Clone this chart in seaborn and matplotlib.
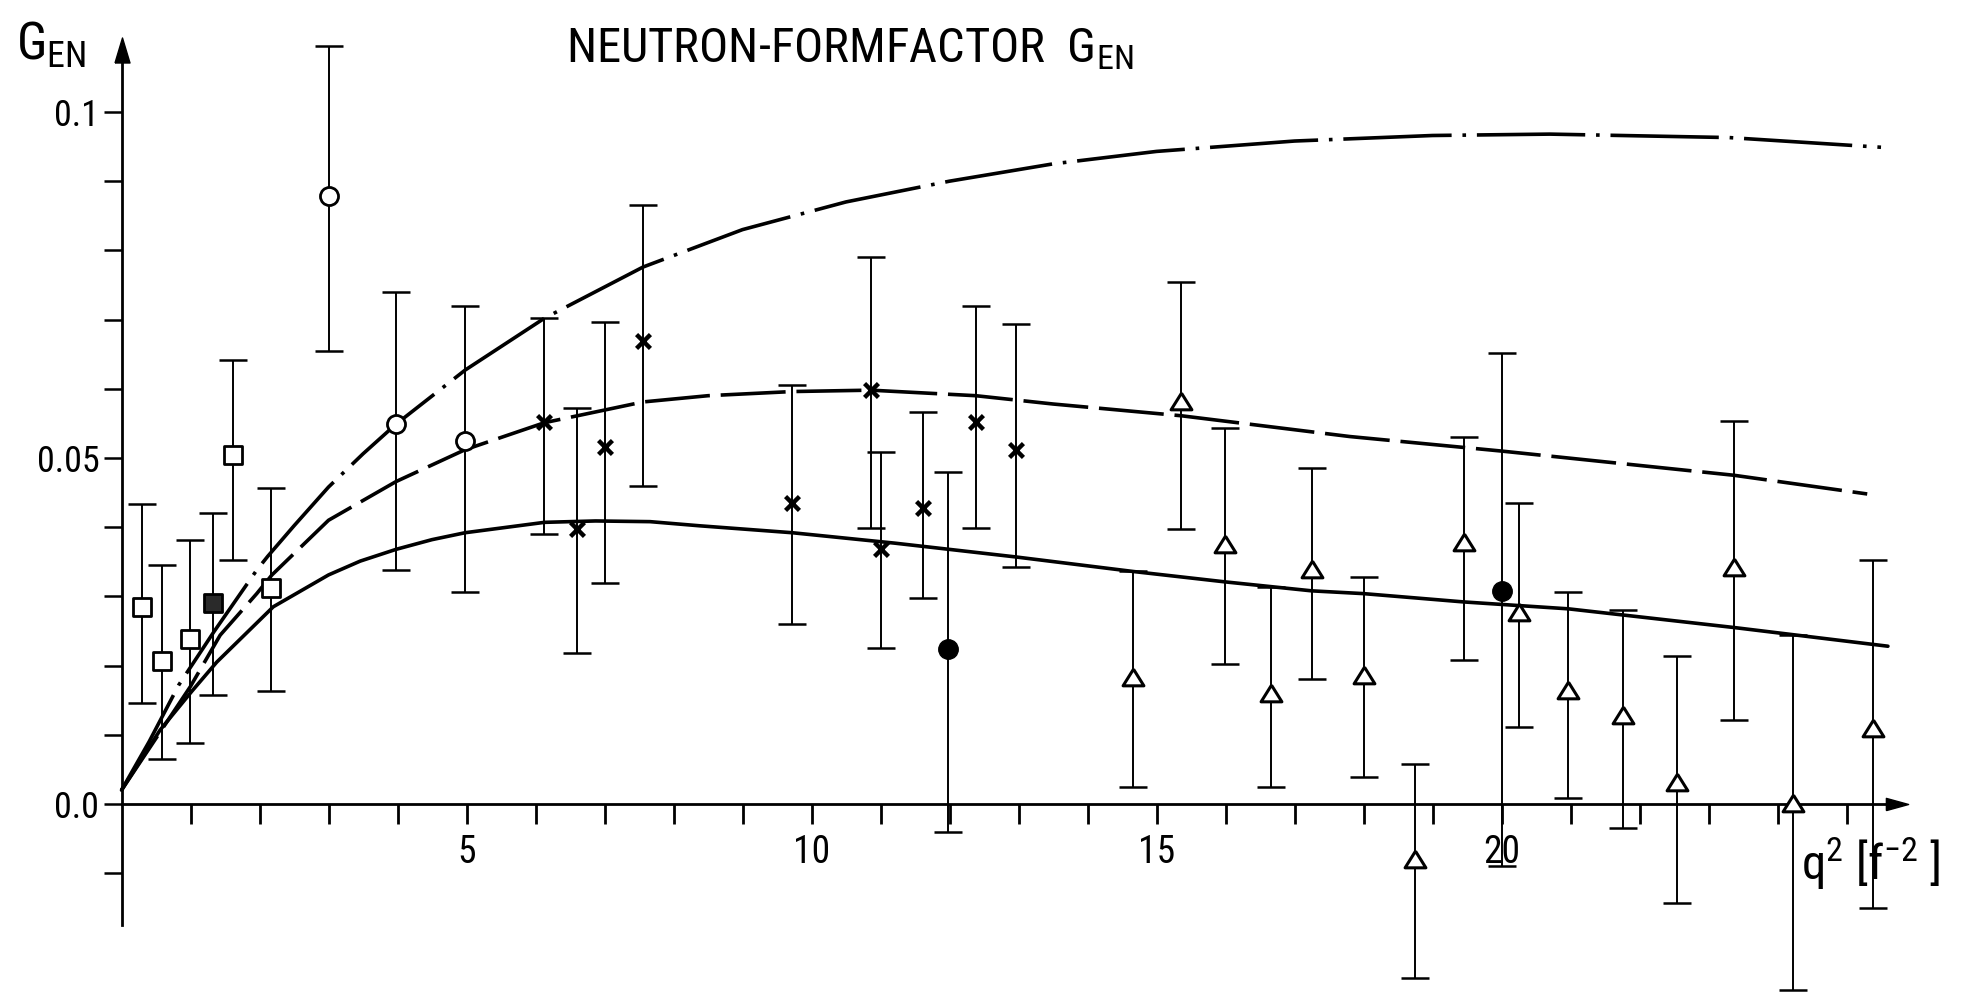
import numpy as np
import pandas as pd
import matplotlib
matplotlib.use('Agg')
import matplotlib.pyplot as plt
import seaborn as sns
from matplotlib import font_manager

# --- data -----------------------------------------------------------------
# theory curves
dashdot_x = [0, 0.4, 0.83, 1.34, 1.96, 2.12, 2.5, 3.0, 3.5, 3.98, 4.98, 6.13, 7.56,
             9.0, 10.5, 12.0, 13.5, 15.0, 17.0, 19.0, 20.7, 23.3, 25.5]
dashdot_y = [0.002, 0.009, 0.0172, 0.0249, 0.0338, 0.0358, 0.0402, 0.0458, 0.0506,
             0.0549, 0.0627, 0.0702, 0.0776, 0.0830, 0.0870, 0.0900, 0.0925, 0.0943,
             0.0958, 0.0966, 0.0968, 0.0963, 0.0949]

dashed_x = [0, 0.5, 1.0, 1.43, 1.96, 2.18, 3.0, 3.98, 4.98, 6.13, 7.56, 8.5, 9.72,
            10.86, 12.38, 13.5, 15.36, 17.8, 20.0, 23.37, 25.3]
dashed_y = [0.002, 0.0095, 0.017, 0.0244, 0.0304, 0.0331, 0.041, 0.0466, 0.0512,
            0.0551, 0.0581, 0.0590, 0.0596, 0.0598, 0.0590, 0.0578, 0.0561,
            0.0531, 0.0510, 0.0475, 0.0448]

solid_x = [0, 0.56, 1.02, 1.38, 2.2, 3.0, 3.46, 3.98, 4.5, 4.98, 6.13, 6.87, 7.66,
           8.38, 9.72, 11.2, 12.96, 14.66, 15.99, 17.25, 18.0, 19.45, 20.97, 23.37,
           25.6]
solid_y = [0.002, 0.0107, 0.0163, 0.0205, 0.0285, 0.0331, 0.0351, 0.0368, 0.0382,
           0.0392, 0.0407, 0.0409, 0.0408, 0.0402, 0.0392, 0.0377, 0.0357, 0.0336,
           0.0321, 0.0308, 0.0304, 0.0292, 0.0282, 0.0255, 0.0228]

# open squares
sq_x = [0.30, 0.59, 0.99, 1.62, 2.17]
sq_y = [0.0284, 0.0206, 0.0239, 0.0505, 0.0312]
sq_lo = [0.0146, 0.0065, 0.0088, 0.0353, 0.0163]
sq_hi = [0.0434, 0.0345, 0.0382, 0.0642, 0.0456]

# filled square
fsq_x = [1.33]
fsq_y = [0.029]
fsq_lo = [0.0158]
fsq_hi = [0.0421]

# open circles
oc_x = [3.01, 3.98, 4.98]
oc_y = [0.0879, 0.0549, 0.0524]
oc_lo = [0.0655, 0.0338, 0.0306]
oc_hi = [0.1096, 0.0740, 0.0720]

# crosses
cr_x = [6.13, 6.6, 7.0, 7.56, 9.72, 10.86, 11.0, 11.62, 12.38, 12.96]
cr_y = [0.0552, 0.0398, 0.0516, 0.0669, 0.0435, 0.0598, 0.0368, 0.0427, 0.0552, 0.0512]
cr_lo = [0.0390, 0.0218, 0.0319, 0.0459, 0.0260, 0.0399, 0.0225, 0.0298, 0.0399, 0.0343]
cr_hi = [0.0702, 0.0572, 0.0696, 0.0865, 0.0605, 0.0791, 0.0508, 0.0567, 0.0719, 0.0694]

# filled circles
fc_x = [11.98, 20.0]
fc_y = [0.0224, 0.0308]
fc_lo = [-0.0040, -0.0090]
fc_hi = [0.0480, 0.0652]

# open triangles
tr_x = [14.66, 15.36, 15.99, 16.66, 17.25, 18.0, 18.75, 19.45, 20.26, 20.97,
        21.76, 22.55, 23.37, 24.22, 25.38]
tr_y = [0.0183, 0.0583, 0.0376, 0.0161, 0.0340, 0.0187, -0.0080, 0.0378, 0.0277,
        0.0165, 0.0129, 0.0032, 0.0342, 0.0002, 0.0110]
tr_lo = [0.0024, 0.0398, 0.0202, 0.0025, 0.0180, 0.0039, -0.0252, 0.0208, 0.0111,
         0.0009, -0.0034, -0.0143, 0.0122, -0.0269, -0.0150]
tr_hi = [0.0336, 0.0754, 0.0543, 0.0314, 0.0485, 0.0328, 0.0058, 0.0531, 0.0435,
         0.0307, 0.0280, 0.0214, 0.0553, 0.0244, 0.0353]

# axis ticks / labels
x_ticks = list(range(1, 26))
x_tick_labels = ['5', '10', '15', '20']
y_ticks = [-0.01, 0.0, 0.01, 0.02, 0.03, 0.04, 0.05, 0.06, 0.07, 0.08, 0.09, 0.1]
y_tick_labels = {0.0: '0.0', 0.05: '0.05', 0.1: '0.1'}

# --- style ------------------------------------------------------------------
sns.set_theme(style='white')
names = {f.name for f in font_manager.fontManager.ttflist}
font = next((n for n in ['Liberation Sans Narrow', 'Roboto Condensed',
                         'Open Sans Condensed'] if n in names), 'DejaVu Sans')
plt.rcParams['font.family'] = [font, 'DejaVu Sans']
if font == 'DejaVu Sans':
    plt.rcParams['font.stretch'] = 'condensed'
plt.rcParams['mathtext.fontset'] = 'custom'
plt.rcParams['mathtext.rm'] = font
plt.rcParams['mathtext.it'] = font
plt.rcParams['mathtext.default'] = 'regular'
plt.rcParams['text.color'] = 'black'

W, H = 1975, 997
fig = plt.figure(figsize=(W / 100, H / 100), dpi=100)
fig.patch.set_facecolor('white')
ax = fig.add_axes([0, 0, 1, 1])
ax.set_xlim(-1.761, 26.862)
ax.set_ylim(-0.02789, 0.11618)

# curves
sns.lineplot(x=dashdot_x, y=dashdot_y, ax=ax, color='black', linewidth=2.6,
             linestyle=(0, (30, 3, 1, 3)), estimator=None, zorder=2)
sns.lineplot(x=dashed_x, y=dashed_y, ax=ax, color='black', linewidth=2.6,
             linestyle=(0, (18, 3)), estimator=None, zorder=2)
sns.lineplot(x=solid_x, y=solid_y, ax=ax, color='black', linewidth=2.6,
             estimator=None, zorder=2)


def bars(xs, ys, lo, hi):
    ys = np.array(ys)
    ax.errorbar(xs, ys, yerr=[ys - np.array(lo), np.array(hi) - ys], fmt='none',
                ecolor='black', elinewidth=1.4, capsize=10, capthick=1.8, zorder=3)


for xs, ys, lo, hi in [(sq_x, sq_y, sq_lo, sq_hi), (fsq_x, fsq_y, fsq_lo, fsq_hi),
                       (oc_x, oc_y, oc_lo, oc_hi), (cr_x, cr_y, cr_lo, cr_hi),
                       (fc_x, fc_y, fc_lo, fc_hi), (tr_x, tr_y, tr_lo, tr_hi)]:
    bars(xs, ys, lo, hi)

tri = [(0, 0.8), (-1, -0.8), (1, -0.8), (0, 0.8)]
sns.scatterplot(x=sq_x, y=sq_y, ax=ax, marker='s', s=13.5 ** 2, color='white',
                edgecolor='black', linewidth=2, zorder=4)
sns.scatterplot(x=fsq_x, y=fsq_y, ax=ax, marker='s', s=13.5 ** 2, color='#2a2a2a',
                edgecolor='black', linewidth=2, zorder=4)
sns.scatterplot(x=oc_x, y=oc_y, ax=ax, marker='o', s=13 ** 2, color='white',
                edgecolor='black', linewidth=2, zorder=4)
sns.scatterplot(x=cr_x, y=cr_y, ax=ax, marker='x', s=10 ** 2, color='black',
                linewidth=3.2, zorder=4)
sns.scatterplot(x=fc_x, y=fc_y, ax=ax, marker='o', s=14 ** 2, color='black',
                edgecolor='black', linewidth=1, zorder=4)
sns.scatterplot(x=tr_x, y=tr_y, ax=ax, marker=tri, s=15 ** 2, color='white',
                edgecolor='black', linewidth=2.2, zorder=4)

# axes drawn as arrows through the origin
y_axis_bottom, y_axis_top = -0.0175, 0.1075
x_axis_end = 25.62
for s in ['top', 'right']:
    ax.spines[s].set_visible(False)
for s in ['left', 'bottom']:
    ax.spines[s].set_position(('data', 0))
    ax.spines[s].set_color('black')
    ax.spines[s].set_linewidth(2)
ax.spines['left'].set_bounds(y_axis_bottom, y_axis_top)
ax.spines['bottom'].set_bounds(0, x_axis_end)
ax.plot([0], [0.1089], marker=[(-0.6, -1), (0, 1), (0.6, -1), (-0.6, -1)], ms=18,
        color='black', clip_on=False, zorder=5)
ax.plot([25.73], [0], marker=[(-1, -0.55), (1, 0), (-1, 0.55), (-1, -0.55)], ms=16,
        color='black', clip_on=False, zorder=5)

ax.set_xticks(x_ticks)
ax.set_xticklabels([t if t in x_tick_labels else '' for t in map(str, x_ticks)])
ax.set_yticks(y_ticks)
ax.set_yticklabels([y_tick_labels.get(round(t, 2), '') for t in y_ticks])
ax.tick_params(axis='x', direction='out', length=14.4, width=2, pad=7,
               labelsize=27, colors='black', bottom=True)
ax.tick_params(axis='y', direction='out', length=13, width=1.8, pad=3,
               labelsize=26, colors='black', left=True)
ax.grid(False)


def fx(px):
    return px / W


def fy(py):
    return 1 - py / H


fig.text(fx(566), fy(62), 'NEUTRON-FORMFACTOR  G$_{EN}$', fontsize=35, va='baseline')
fig.text(fx(16), fy(60), 'G$_{EN}$', fontsize=37, va='baseline')
fig.text(fx(1801), fy(880), 'q$^{2}$ [f$^{-2}$ ]', fontsize=35, va='baseline')

fig.savefig('out.png', dpi=100, facecolor='white')
